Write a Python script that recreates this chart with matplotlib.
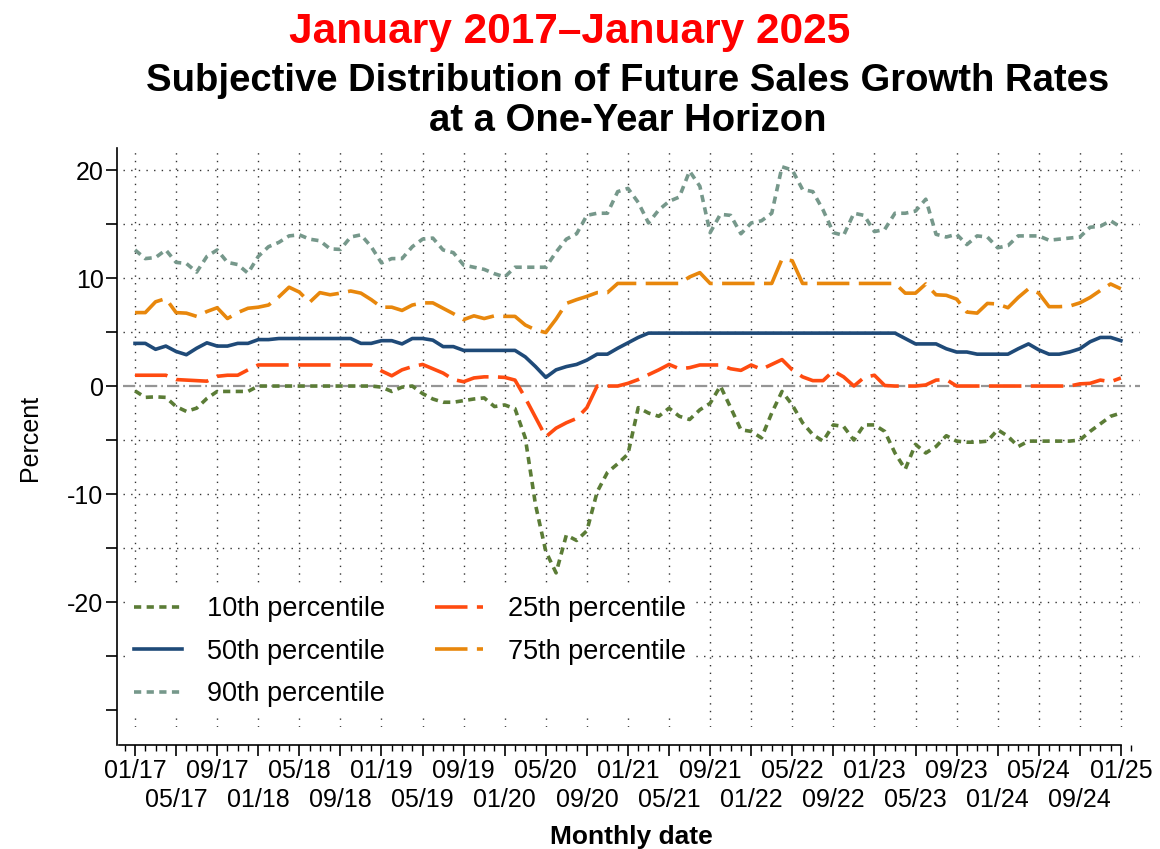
import matplotlib.pyplot as plt
from matplotlib.ticker import FixedLocator, MultipleLocator

plt.rcParams['font.family'] = ['Liberation Sans', 'DejaVu Sans']
plt.rcParams['axes.unicode_minus'] = False

# monthly index, 0 = 01/17 ... 96 = 01/25
months = list(range(97))

tick_pos = list(range(0, 97, 4))
tick_dates = ['01/17', '05/17', '09/17', '01/18', '05/18', '09/18', '01/19',
              '05/19', '09/19', '01/20', '05/20', '09/20', '01/21', '05/21',
              '09/21', '01/22', '05/22', '09/22', '01/23', '05/23', '09/23',
              '01/24', '05/24', '09/24', '01/25']

p10 = [-0.45, -1.05, -1.0, -1.05, -1.9, -2.35, -2.05, -1.15, -0.5, -0.5, -0.5, -0.5,
       0, 0, 0, 0, 0, 0, 0, 0, 0, 0, 0, 0,
       -0.1, -0.5, -0.1, 0, -0.7, -1.2, -1.5, -1.5, -1.35, -1.2, -1.1, -1.9,
       -1.75, -2.1, -4.8, -11.0, -15.3, -17.3, -13.8, -14.3, -13.4, -9.8, -8.0, -7.2,
       -6.3, -2.0, -2.5, -2.8, -2.05, -2.8, -3.1, -2.2, -1.6, 0.0, -2.0, -4.05,
       -4.2, -4.8, -2.5, -0.5, -1.75, -3.4, -4.5, -5.1, -3.6, -3.75, -5.0, -3.6,
       -3.6, -4.2, -6.2, -7.7, -5.4, -6.2, -5.6, -4.6, -5.1, -5.2, -5.2, -5.1,
       -4.05, -4.65, -5.6, -5.1, -5.1, -5.1, -5.1, -5.1, -5.0, -4.2, -3.5, -2.8, -2.5]

p25 = [1.0, 1.0, 1.0, 1.0, 0.6, 0.55, 0.5, 0.45, 0.9, 1.0, 1.0, 1.5,
       1.95, 1.95, 1.95, 1.95, 1.95, 1.95, 1.95, 1.95, 1.95, 1.95, 1.95, 1.95,
       1.4, 0.95, 1.5, 1.8, 2.0, 1.6, 1.2, 0.6, 0.4, 0.75, 0.85, 0.85,
       0.8, 0.55, -1.1, -2.9, -4.7, -3.9, -3.4, -3.0, -2.0, 0.0, 0.0, 0.0,
       0.25, 0.6, 1.05, 1.5, 2.0, 1.6, 1.7, 1.95, 1.95, 1.95, 1.6, 1.45,
       1.95, 1.55, 2.0, 2.45, 1.5, 0.85, 0.5, 0.5, 1.4, 0.85, 0.0, 0.8,
       1.0, 0.05, 0, 0, 0, 0.1, 0.55, 0.6, 0, 0, 0, 0,
       0, 0, 0, 0, 0, 0, 0, 0, 0.2, 0.25, 0.55, 0.4, 0.75]

p50 = [3.95, 3.95, 3.4, 3.7, 3.2, 2.9, 3.5, 4.0, 3.7, 3.7, 3.95, 3.95,
       4.3, 4.3, 4.4, 4.4, 4.4, 4.4, 4.4, 4.4, 4.4, 4.4, 3.95, 3.95,
       4.2, 4.2, 3.9, 4.4, 4.4, 4.25, 3.65, 3.65, 3.3, 3.3, 3.3, 3.3,
       3.3, 3.3, 2.7, 1.8, 0.8, 1.5, 1.8, 2.0, 2.4, 2.95, 2.95, 3.5,
       4.0, 4.5, 4.9, 4.9, 4.9, 4.9, 4.9, 4.9, 4.9, 4.9, 4.9, 4.9,
       4.9, 4.9, 4.9, 4.9, 4.9, 4.9, 4.9, 4.9, 4.9, 4.9, 4.9, 4.9,
       4.9, 4.9, 4.9, 4.4, 3.9, 3.9, 3.9, 3.45, 3.15, 3.15, 2.95, 2.95,
       2.95, 2.95, 3.45, 3.9, 3.35, 2.95, 2.95, 3.15, 3.45, 4.1, 4.5, 4.5, 4.2]

p75 = [6.8, 6.8, 7.8, 8.1, 6.8, 6.75, 6.45, 6.9, 7.25, 6.25, 6.8, 7.2,
       7.3, 7.5, 8.25, 9.15, 8.7, 7.75, 8.65, 8.45, 8.6, 8.8, 8.6, 8.0,
       7.3, 7.3, 7.0, 7.5, 7.7, 7.7, 7.2, 6.7, 6.15, 6.5, 6.25, 6.5,
       6.45, 6.45, 5.65, 5.2, 4.95, 6.2, 7.65, 8.0, 8.3, 8.65, 8.65, 9.5,
       9.5, 9.5, 9.5, 9.5, 9.5, 9.5, 10.1, 10.5, 9.5, 9.5, 9.5, 9.5,
       9.5, 9.5, 9.5, 11.75, 11.6, 9.5, 9.5, 9.5, 9.5, 9.5, 9.5, 9.5,
       9.5, 9.5, 9.5, 8.6, 8.6, 9.45, 8.45, 8.4, 8.05, 6.85, 6.75, 7.65,
       7.6, 7.25, 8.2, 9.0, 8.6, 7.35, 7.35, 7.4, 7.7, 8.2, 8.85, 9.45, 9.0]

p90 = [12.6, 11.8, 11.9, 12.6, 11.45, 11.35, 10.55, 12.0, 12.6, 11.45, 11.25, 10.45,
       12.0, 12.9, 13.3, 13.9, 14.0, 13.6, 13.45, 12.7, 12.65, 13.8, 14.0, 12.9,
       11.4, 11.8, 11.8, 12.9, 13.6, 13.7, 12.6, 12.35, 11.2, 11.0, 10.8, 10.4,
       10.1, 11.0, 11.0, 11.0, 11.0, 12.4, 13.6, 14.1, 15.8, 16.0, 16.0, 18.0,
       18.3, 17.0, 15.1, 16.3, 17.1, 17.5, 19.9, 18.5, 14.2, 15.9, 15.8, 14.1,
       15.1, 15.3, 16.0, 20.3, 20.0, 18.2, 18.0, 16.3, 14.2, 13.95, 16.0, 15.8,
       14.3, 14.5, 16.0, 16.0, 16.2, 17.3, 14.05, 13.8, 14.05, 13.1, 13.9, 13.8,
       12.8, 13.0, 13.9, 13.9, 13.9, 13.5, 13.6, 13.7, 13.8, 14.7, 14.8, 15.3, 14.7]

W, H = 1160, 849
fig = plt.figure(figsize=(W / 100, H / 100), dpi=100)
ax = fig.add_axes([123 / W, 1 - 727 / H, (1140 - 123) / W, (727 - 148) / H])

dots = (0, (2, 1.5))
longdash = (0, (9, 2.6))
lw = 2.6

ax.axhline(0, color='#959595', lw=1.6, ls=(0, (5.5, 1.8, 0.8, 1.8)), zorder=1.5)
l10, = ax.plot(months, p10, color='#5b7c36', lw=lw, ls=dots, label='10th percentile', zorder=3)
l25, = ax.plot(months, p25, color='#ff4b10', lw=lw, ls=longdash, label='25th percentile', zorder=3)
l50, = ax.plot(months, p50, color='#1f4a78', lw=lw, ls='-', label='50th percentile', zorder=3)
l75, = ax.plot(months, p75, color='#e8870c', lw=lw, ls=longdash, label='75th percentile', zorder=3)
l90, = ax.plot(months, p90, color='#76988b', lw=lw, ls=dots, label='90th percentile', zorder=3)

# dotted grid: every 4 months, every 5 percent (no line at 0)
grid_style = dict(color='#333333', lw=1.0, ls=(0, (1, 4.5)), zorder=1)
for m in tick_pos:
    ax.axvline(m, **grid_style)
for v in range(-25, 21, 5):
    if v != 0:
        ax.axhline(v, **grid_style)

ax.set_xlim(-1.17, 97.86)
ax.set_ylim(-31.57, 22.04)

for s in ['top', 'right']:
    ax.spines[s].set_visible(False)
ax.spines['left'].set_position(('outward', 4))
ax.spines['bottom'].set_position(('outward', 13))
ax.spines['left'].set_linewidth(1.2)
ax.spines['bottom'].set_linewidth(1.2)
ax.spines['left'].set_bounds(-33.2, 22.04)
ax.spines['bottom'].set_bounds(-1.6, 96)

ax.yaxis.set_major_locator(FixedLocator(list(range(-30, 21, 5))))
ax.set_yticklabels([str(v) if v % 10 == 0 and v >= -20 else '' for v in range(-30, 21, 5)])
ax.xaxis.set_major_locator(FixedLocator(tick_pos))
ax.xaxis.set_minor_locator(MultipleLocator(1))
ax.set_xticklabels(tick_dates)
ax.tick_params(axis='y', length=8, width=1.2, labelsize=18, pad=2)
ax.tick_params(axis='x', which='major', length=8, width=1.2, labelsize=18, pad=2)
ax.tick_params(axis='x', which='minor', length=4.5, width=1.0)
# alternate tick labels on a second row
for i, t in enumerate(ax.xaxis.get_major_ticks()):
    if i % 2 == 1:
        t.set_pad(23)

ax.set_xlabel('Monthly date', fontsize=19, fontweight='bold', labelpad=9)
ax.set_ylabel('Percent', fontsize=18)
ax.yaxis.set_label_coords(-0.080, 0.499)

leg = ax.legend([l10, l50, l90, l25, l75],
                ['10th percentile', '50th percentile', '90th percentile',
                 '25th percentile', '75th percentile'],
                ncol=2, loc='upper left', bbox_to_anchor=(125 / W, 1 - 587 / H),
                bbox_transform=fig.transFigure, fontsize=19.5, frameon=True,
                fancybox=False, edgecolor='none', facecolor='white', framealpha=1,
                handlelength=1.75, handletextpad=0.93, columnspacing=1.85,
                labelspacing=0.6, borderpad=0.35, borderaxespad=0)
leg.set_zorder(5)

fig.text(570 / W, 1 - 32 / H, 'January 2017\u2013January 2025', color='#ff0000',
         fontsize=30.5, fontweight='bold', ha='center', va='center')
fig.text(628 / W, 1 - 101 / H, 'Subjective Distribution of Future Sales Growth Rates\nat a One-Year Horizon',
         fontsize=27.5, fontweight='bold', ha='center', va='center', linespacing=1.15)

fig.savefig('out.png', dpi=100)
